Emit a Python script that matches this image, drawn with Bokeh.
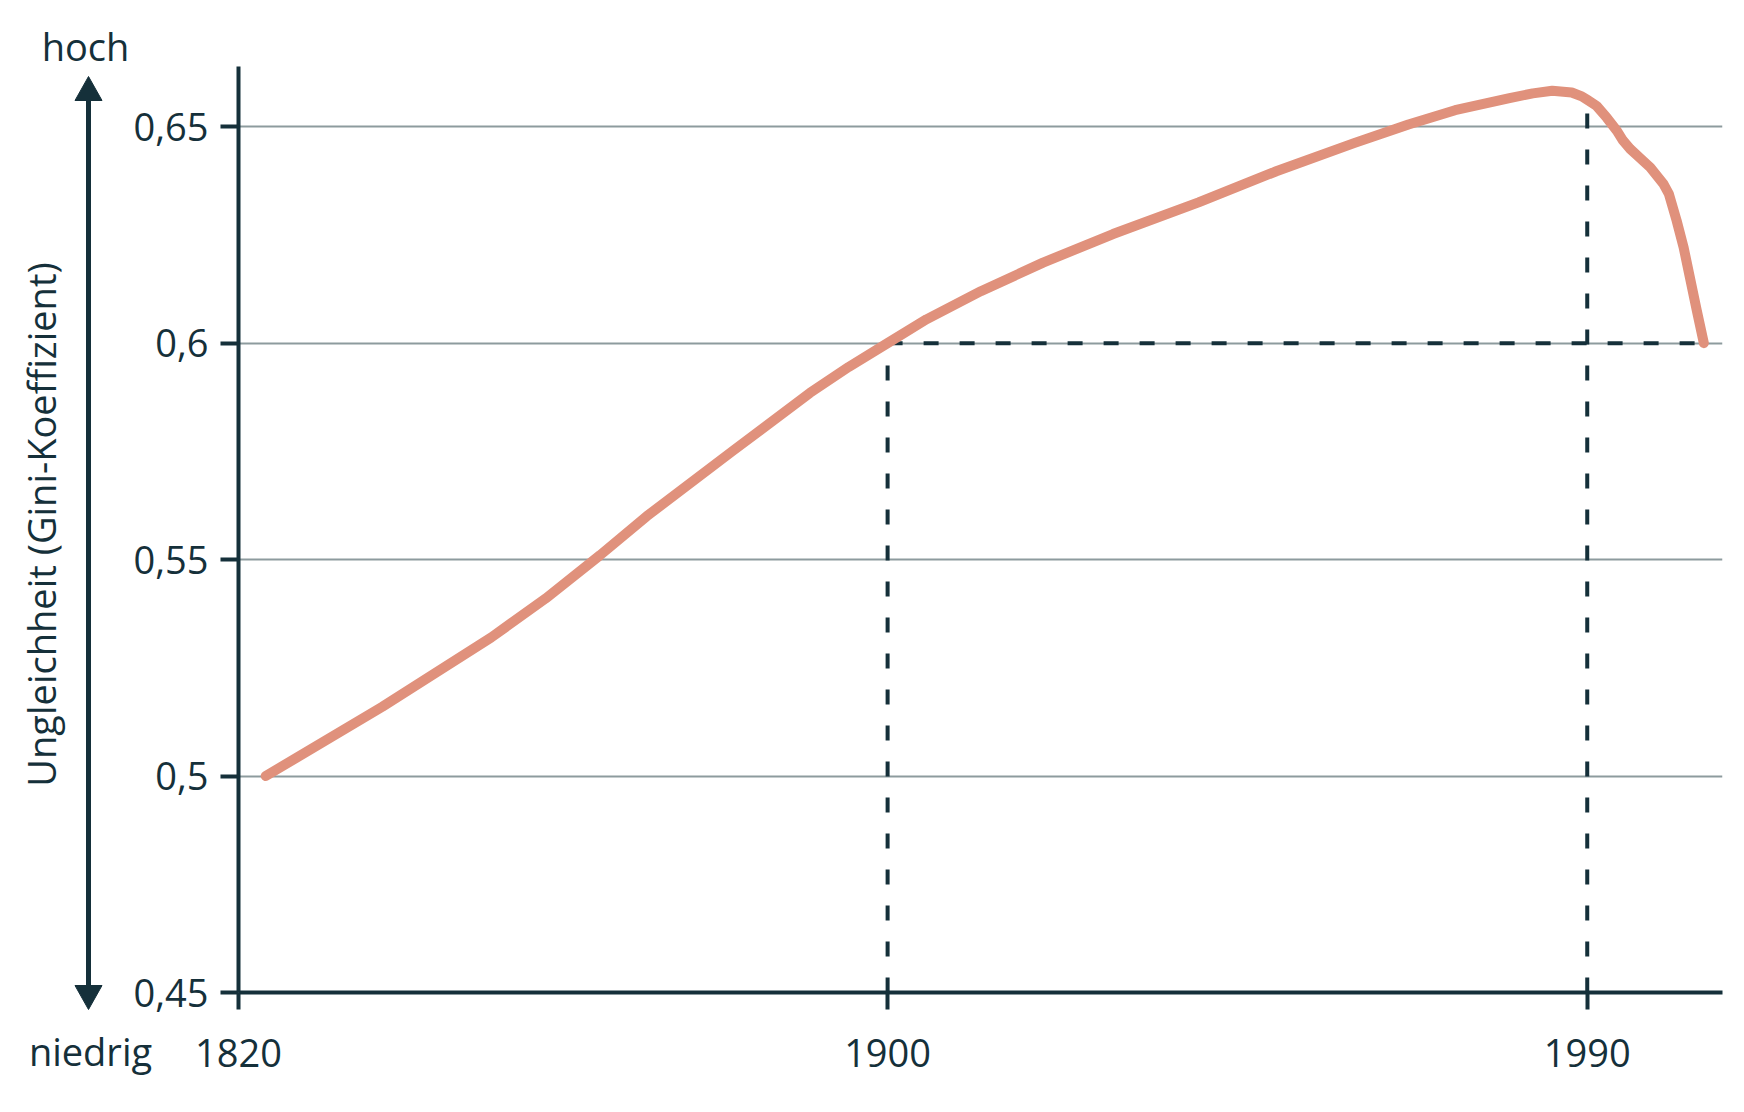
import math
from bokeh.plotting import figure
from bokeh.models import FixedTicker, CustomJSTickFormatter, Range1d, GridBox
from bokeh.core.properties import value
from bokeh.embed import file_html
from bokeh.resources import INLINE

# ---- data ----
years = [1820, 1835, 1849, 1856, 1863, 1869, 1880, 1890, 1895, 1900, 1905, 1912, 1920, 1929,
         1940, 1950, 1960, 1967, 1973, 1980, 1983, 1985.5, 1988, 1989.3, 1990, 1991.2, 1992.5,
         1993.8, 1994.6, 1995.5, 1996.7, 1998.1, 1999.8, 2000.5, 2001.5, 2002.4, 2003.2, 2004.1, 2005]
gini = [0.500, 0.516, 0.532, 0.541, 0.551, 0.560, 0.575, 0.5885, 0.5945, 0.600, 0.6055, 0.6120,
        0.6186, 0.6252, 0.6325, 0.6397, 0.6462, 0.6505, 0.6538, 0.6566, 0.6577, 0.6583, 0.6579,
        0.6570, 0.6562, 0.6548, 0.6521, 0.6491, 0.6468, 0.6449, 0.6429, 0.6406, 0.6368, 0.6345,
        0.6283, 0.6221, 0.6152, 0.6075, 0.600]
y_ticks = [0.45, 0.5, 0.55, 0.6, 0.65]
x_tick_years = [1900, 1990]
first_year_label = "1820"
marker_year_a = 1900
marker_year_b = 1990
ref_gini = 0.6
y_title = "Ungleichheit (Gini-Koeffizient)"
top_label = "hoch"
bottom_label = "niedrig"

# ---- style ----
DARK = "#15303a"
CURVE = "#e0917c"
GRID = "#8d9b9e"
FONT = "Open Sans"
FS = "38px"
W, H = 1736, 1104
LEFT = 238

x_start, x_end = 1816.5, 2007.4
y_start, y_end = 0.45, 0.6639

p = figure(width=W, height=H, output_backend="svg", toolbar_location=None,
           x_range=Range1d(x_start, x_end), y_range=Range1d(y_start, y_end),
           min_border_left=LEFT, min_border_right=14, min_border_top=66, min_border_bottom=112,
           title=None)
p.frame_align = False
p.outline_line_color = None
p.background_fill_color = "white"
p.border_fill_color = "white"

# x axis
p.xaxis.ticker = FixedTicker(ticks=[x_start] + x_tick_years)
p.xaxis.major_label_overrides = {x_start: first_year_label, **{y: str(y) for y in x_tick_years}}
p.xaxis.axis_line_color = DARK
p.xaxis.axis_line_width = 4
p.xaxis.major_tick_line_color = DARK
p.xaxis.major_tick_line_width = 4
p.xaxis.major_tick_in = 0
p.xaxis.major_tick_out = 17
p.xaxis.minor_tick_line_color = None
p.xaxis.major_label_text_font = FONT
p.xaxis.major_label_text_font_size = FS
p.xaxis.major_label_text_color = DARK
p.xaxis.major_label_standoff = 29

# y axis
p.yaxis.ticker = FixedTicker(ticks=y_ticks)
p.yaxis.formatter = CustomJSTickFormatter(code="return tick.toString().replace('.', ',');")
p.yaxis.axis_line_color = DARK
p.yaxis.axis_line_width = 4
p.yaxis.major_tick_line_color = DARK
p.yaxis.major_tick_line_width = 4
p.yaxis.major_tick_in = 0
p.yaxis.major_tick_out = 18
p.yaxis.minor_tick_line_color = None
p.yaxis.major_label_text_font = FONT
p.yaxis.major_label_text_font_size = FS
p.yaxis.major_label_text_color = DARK
p.yaxis.major_label_standoff = 12

p.xgrid.grid_line_color = None
p.ygrid.grid_line_color = GRID
p.ygrid.grid_line_width = 2

# dashed reference lines
gini_b = gini[years.index(marker_year_b)]
p.segment(x0=[marker_year_a, marker_year_b, marker_year_a],
          y0=[y_start, y_start, ref_gini],
          x1=[marker_year_a, marker_year_b, years[-1]],
          y1=[ref_gini, gini_b, ref_gini],
          line_color=DARK, line_width=4, line_dash="15 21")

# curve
p.line(years, gini, line_color=CURVE, line_width=10, line_cap="round", line_join="round")

# ---- transparent overlay for the decorations left of the axis (pixel space) ----
deco = figure(width=LEFT, height=H, output_backend="svg", toolbar_location=None,
              x_range=Range1d(0, LEFT), y_range=Range1d(H, 0),
              x_axis_type=None, y_axis_type=None, min_border=0, title=None)
deco.frame_align = False
deco.outline_line_color = None
deco.background_fill_color = None
deco.border_fill_color = None
deco.grid.visible = False

ax = 88
deco.segment(x0=[ax], y0=[99], x1=[ax], y1=[986], line_color=DARK, line_width=5)
deco.patches(xs=[[ax, ax - 13.5, ax + 13.5], [ax, ax - 13.5, ax + 13.5]],
             ys=[[76, 100, 100], [1009, 985, 985]],
             fill_color=DARK, line_color=DARK, line_width=1)
deco.text(x=[85, 90], y=[45, 1050], text=[top_label, bottom_label],
          text_font=value(FONT), text_font_size=FS, text_color=DARK,
          text_align="center", text_baseline="alphabetic")
deco.text(x=[40], y=[524], text=[y_title], angle=math.pi / 2,
          text_font=value(FONT), text_font_size=FS, text_color=DARK,
          text_align="center", text_baseline="middle")

layout = GridBox(children=[(p, 0, 0), (deco, 0, 0)])

open("out.html", "w").write(file_html(layout, INLINE))
